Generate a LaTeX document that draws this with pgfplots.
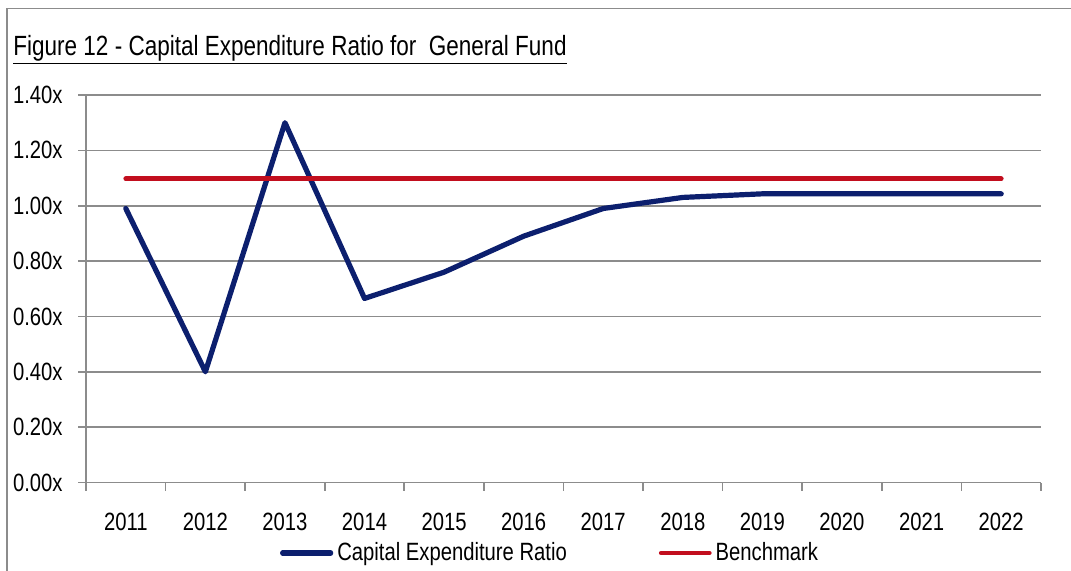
\documentclass[border=0pt]{standalone}
\usepackage{fontspec}
\setmainfont{Liberation Sans}[FakeStretch=0.81]
\usepackage{pgfplots}
\pgfplotsset{compat=1.18}
\definecolor{navy}{HTML}{0C1F6E}
\definecolor{bred}{HTML}{C20E1E}
\definecolor{gridg}{HTML}{8C8C8C}
\begin{document}
\fontsize{12.5}{15}\selectfont
\begin{tikzpicture}[x=1pt,y=1pt]
\useasboundingbox (0,0) rectangle (535.5,285);
\draw[gridg, line width=0.8pt] (3.6,-2) -- (3.6,280.8) -- (540,280.8);
\node[anchor=base west, inner sep=0pt, font=\fontsize{13.9}{16}\selectfont] (t) at (6.5,257.5) {Figure 12 - Capital Expenditure Ratio for \ General Fund};
\draw[line width=0.9pt] ([yshift=-4.2pt]t.base west) -- ([yshift=-4.2pt]t.base east);
\begin{axis}[
  at={(43pt,43.75pt)}, anchor=south west,
  scale only axis, width=477.5pt, height=193.75pt,
  xmin=2010.5, xmax=2022.5, ymin=0, ymax=1.4,
  axis x line*=bottom, axis y line*=left,
  axis line style={gridg, line width=0.8pt, -},
  xtick={2010.5,2011.5,...,2022.5},
  x tick label as interval,
  xticklabels={2011,2012,2013,2014,2015,2016,2017,2018,2019,2020,2021,2022},
  ytick={0,0.2,0.4,0.6,0.8,1.0,1.2,1.4},
  yticklabels={0.00x,0.20x,0.40x,0.60x,0.80x,1.00x,1.20x,1.40x},
  tick style={draw=gridg, line width=0.8pt},
  major tick length=4pt,
  tick align=outside,
  xtick pos=bottom, ytick pos=left,
  ymajorgrids, xmajorgrids=false, grid style={gridg, line width=0.8pt},
  yticklabel style={anchor=east, inner sep=0pt, xshift=-7.5pt},
  xticklabel style={anchor=base, inner sep=0pt, yshift=-19.75pt},
  /pgf/number format/assume math mode=true,
  legend columns=2,
  legend style={draw=none, fill=none, at={(0.487,-0.182)}, anchor=center,
    /tikz/every even column/.append style={column sep=44pt},
    inner sep=0pt, nodes={inner sep=2pt}},
  legend image code/.code={\draw[#1] (0pt,0pt) -- (24pt,0pt);},
  clip=false,
]
\addplot[navy, line width=2.6pt, line cap=round, line join=round] coordinates {
(2011,0.99) (2012,0.40) (2013,1.30) (2014,0.665) (2015,0.76) (2016,0.89)
(2017,0.99) (2018,1.03) (2019,1.043) (2020,1.043) (2021,1.043) (2022,1.043)};
\addlegendentry{Capital Expenditure Ratio}
\addplot[bred, line width=2.4pt, line cap=round] coordinates {
(2011,1.097) (2012,1.097) (2013,1.097) (2014,1.097) (2015,1.097) (2016,1.097)
(2017,1.097) (2018,1.097) (2019,1.097) (2020,1.097) (2021,1.097) (2022,1.097)};
\addlegendentry{Benchmark}
\end{axis}
\end{tikzpicture}
\end{document}
